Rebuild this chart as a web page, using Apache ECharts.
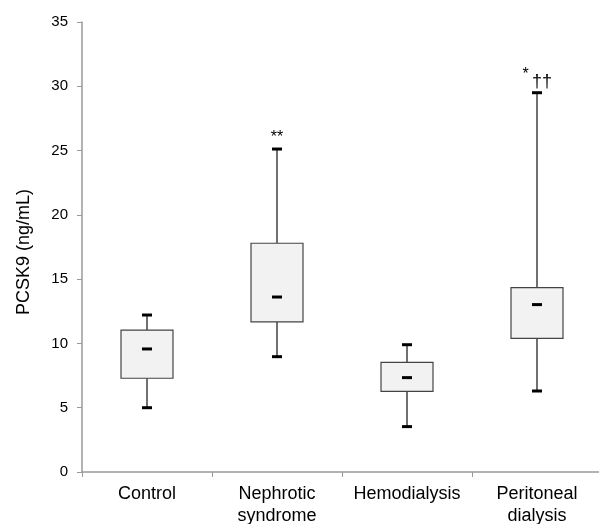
<!DOCTYPE html>
<html>
<head>
<meta charset="utf-8">
<script src="https://cdn.jsdelivr.net/npm/echarts@6/dist/echarts.min.js"></script>
<style>html,body{margin:0;padding:0;background:#fff}#c{width:599px;height:524px}</style>
</head>
<body>
<div id="c"></div>
<script>
const categories = ['Control', 'Nephrotic\nsyndrome', 'Hemodialysis', 'Peritoneal\ndialysis'];
const whiskerLow = [5.0, 8.97, 3.53, 6.3];
const q1 = [7.29, 11.67, 6.27, 10.4];
const median = [9.57, 13.61, 7.34, 13.02];
const q3 = [11.04, 17.79, 8.53, 14.34];
const whiskerHigh = [12.21, 25.12, 9.9, 29.5];
const starLabels = ['', '**', '', '*'];
const daggerLabels = ['', '', '', '††'];
const yTicks = [0, 5, 10, 15, 20, 25, 30, 35];

const data = categories.map((c, i) => [i, whiskerLow[i], q1[i], median[i], q3[i], whiskerHigh[i]]);
const FONT = '"Liberation Sans", Arial, sans-serif';
const TEXT = '#000';

function renderItem(params, api) {
  const i = api.value(0);
  const cx = api.coord([i, 0])[0];
  const yLow = api.coord([i, api.value(1)])[1];
  const yQ1 = api.coord([i, api.value(2)])[1];
  const yMed = api.coord([i, api.value(3)])[1];
  const yQ3 = api.coord([i, api.value(4)])[1];
  const yHigh = api.coord([i, api.value(5)])[1];
  const bw = 52, cw = 10;
  const children = [
    {type: 'line', shape: {x1: cx, y1: yHigh, x2: cx, y2: yQ3}, style: {stroke: '#111', lineWidth: 1.2}},
    {type: 'line', shape: {x1: cx, y1: yQ1, x2: cx, y2: yLow}, style: {stroke: '#111', lineWidth: 1.2}},
    {type: 'rect', shape: {x: cx - bw / 2, y: yQ3, width: bw, height: yQ1 - yQ3}, style: {fill: '#f2f2f2', stroke: '#444', lineWidth: 1.2}},
    {type: 'rect', shape: {x: cx - cw / 2, y: yMed - 1.5, width: cw, height: 3}, style: {fill: '#000'}},
    {type: 'rect', shape: {x: cx - cw / 2, y: yHigh - 1.5, width: cw, height: 3}, style: {fill: '#000'}},
    {type: 'rect', shape: {x: cx - cw / 2, y: yLow - 1.5, width: cw, height: 3}, style: {fill: '#000'}}
  ];
  const star = starLabels[i], dag = daggerLabels[i];
  if (star && !dag) {
    children.push({type: 'text', style: {text: star, x: cx, y: yHigh - 3, align: 'center', verticalAlign: 'bottom', fill: TEXT, font: '16px ' + FONT}});
  }
  if (star && dag) {
    children.push({type: 'text', style: {text: star, x: cx - 11.5, y: yHigh - 10.5, align: 'center', verticalAlign: 'bottom', fill: TEXT, font: '16px ' + FONT}});
    children.push({type: 'text', style: {text: dag, x: cx + 5, y: yHigh - 1.5, align: 'center', verticalAlign: 'bottom', fill: TEXT, font: '18px ' + FONT}});
  }
  return {type: 'group', children: children};
}

const chart = echarts.init(document.getElementById('c'), null, {renderer: 'canvas'});
chart.setOption({
  animation: false,
  backgroundColor: '#fff',
  grid: {left: 82, top: 22, bottom: 52, width: 520, containLabel: false, outerBoundsMode: 'none'},
  xAxis: {
    type: 'category',
    data: categories,
    axisLine: {lineStyle: {color: '#999', width: 1.5}},
    axisTick: {show: true, length: 5, lineStyle: {color: '#999'}},
    axisLabel: {color: TEXT, fontSize: 18, fontFamily: FONT, margin: 11, lineHeight: 22, interval: 0}
  },
  yAxis: {
    type: 'value',
    min: yTicks[0],
    max: yTicks[yTicks.length - 1],
    interval: 5,
    name: 'PCSK9 (ng/mL)',
    nameLocation: 'middle',
    nameGap: 49,
    nameTextStyle: {color: TEXT, fontSize: 18, fontFamily: FONT, padding: [0, 10, 0, 0]},
    axisLine: {show: true, lineStyle: {color: '#999', width: 1.5}},
    axisTick: {show: true, length: 5, lineStyle: {color: '#999'}},
    splitLine: {show: false},
    axisLabel: {color: TEXT, fontSize: 15, fontFamily: FONT, margin: 14}
  },
  series: [{
    type: 'custom',
    renderItem: renderItem,
    encode: {x: 0, y: [1, 2, 3, 4, 5]},
    data: data,
    clip: false
  }]
});
</script>
</body>
</html>
